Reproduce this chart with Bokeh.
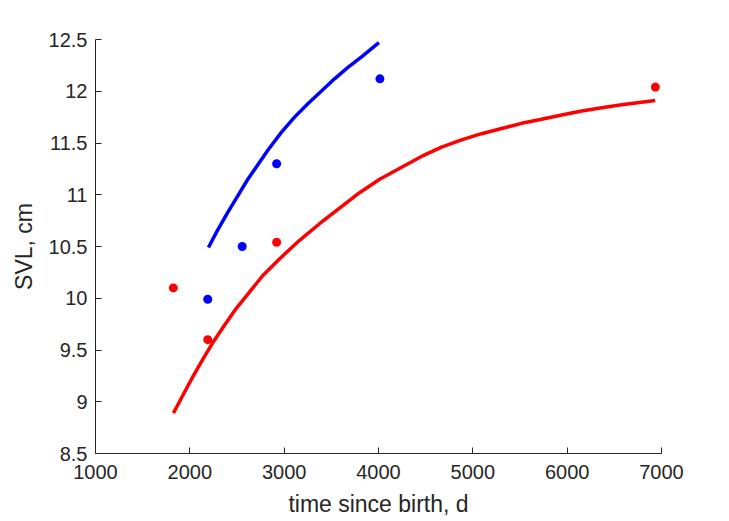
from bokeh.plotting import figure
from bokeh.models import FixedTicker, Range1d
from bokeh.embed import file_html
from bokeh.resources import INLINE

# ---- data ----
blue_t = [2190, 2555, 2920, 4015]
blue_L = [9.99, 10.50, 11.30, 12.12]
red_t = [1825, 2190, 2920, 6935]
red_L = [10.10, 9.60, 10.54, 12.04]

blue_curve_t = [2197, 2296, 2402, 2508, 2615, 2721, 2827, 2968, 3110, 3251,
                3393, 3534, 3676, 3817, 4004]
blue_curve_L = [10.49, 10.66, 10.83, 10.99, 11.15, 11.29, 11.43, 11.60, 11.75, 11.88,
                12.00, 12.12, 12.23, 12.33, 12.47]
red_curve_t = [1826, 1925, 2031, 2137, 2243, 2367, 2491, 2632, 2774, 2950,
               3163, 3375, 3587, 3799, 4012, 4294, 4455, 4668, 4880, 5092,
               5304, 5517, 5729, 5941, 6154, 6366, 6578, 6932]
red_curve_L = [8.89, 9.06, 9.24, 9.41, 9.57, 9.74, 9.90, 10.06, 10.22, 10.38,
               10.56, 10.72, 10.87, 11.02, 11.15, 11.29, 11.37, 11.46, 11.53, 11.59,
               11.64, 11.69, 11.73, 11.77, 11.81, 11.84, 11.87, 11.91]

x_ticks = [1000, 2000, 3000, 4000, 5000, 6000, 7000]
x_tick_labels = ["1000", "2000", "3000", "4000", "5000", "6000", "7000"]
y_ticks = [8.5, 9, 9.5, 10, 10.5, 11, 11.5, 12, 12.5]
y_tick_labels = ["8.5", "9", "9.5", "10", "10.5", "11", "11.5", "12", "12.5"]

FONT = "Liberation Sans"
AX = "#262626"

p = figure(width=729, height=521, output_backend="svg", toolbar_location=None,
           x_range=Range1d(1000, 7000), y_range=Range1d(8.5, 12.5),
           min_border_left=95, min_border_right=68, min_border_top=39, min_border_bottom=68)
p.outline_line_color = None
p.grid.visible = False
p.background_fill_color = "white"
p.border_fill_color = "white"

p.line(blue_curve_t, blue_curve_L, line_color="#0000FF", line_width=3.5, line_join="round")
p.line(red_curve_t, red_curve_L, line_color="#FF0000", line_width=3.5, line_join="round")
p.scatter(blue_t, blue_L, size=9, fill_color="#0000FF", line_color=None)
p.scatter(red_t, red_L, size=9, fill_color="#FF0000", line_color=None)

p.xaxis.ticker = FixedTicker(ticks=x_ticks)
p.yaxis.ticker = FixedTicker(ticks=y_ticks)
p.xaxis.major_label_overrides = {t: l for t, l in zip(x_ticks, x_tick_labels)}
p.yaxis.major_label_overrides = {t: l for t, l in zip(y_ticks, y_tick_labels)}

for ax in (p.xaxis[0], p.yaxis[0]):
    ax.axis_line_color = AX
    ax.axis_line_width = 1
    ax.major_tick_line_color = AX
    ax.major_tick_in = 6
    ax.major_tick_out = 0
    ax.minor_tick_line_color = None
    ax.major_label_text_font = FONT
    ax.major_label_text_font_size = "20px"
    ax.major_label_text_color = AX
    ax.axis_label_text_font = FONT
    ax.axis_label_text_font_size = "23px"
    ax.axis_label_text_font_style = "normal"
    ax.axis_label_text_color = AX

p.xaxis.axis_label = "time since birth, d"
p.yaxis.axis_label = "SVL, cm"
p.xaxis.major_label_standoff = 11
p.yaxis.major_label_standoff = 8
p.xaxis.axis_label_standoff = 9
p.yaxis.axis_label_standoff = 9

open("out.html", "w").write(file_html(p, INLINE))
